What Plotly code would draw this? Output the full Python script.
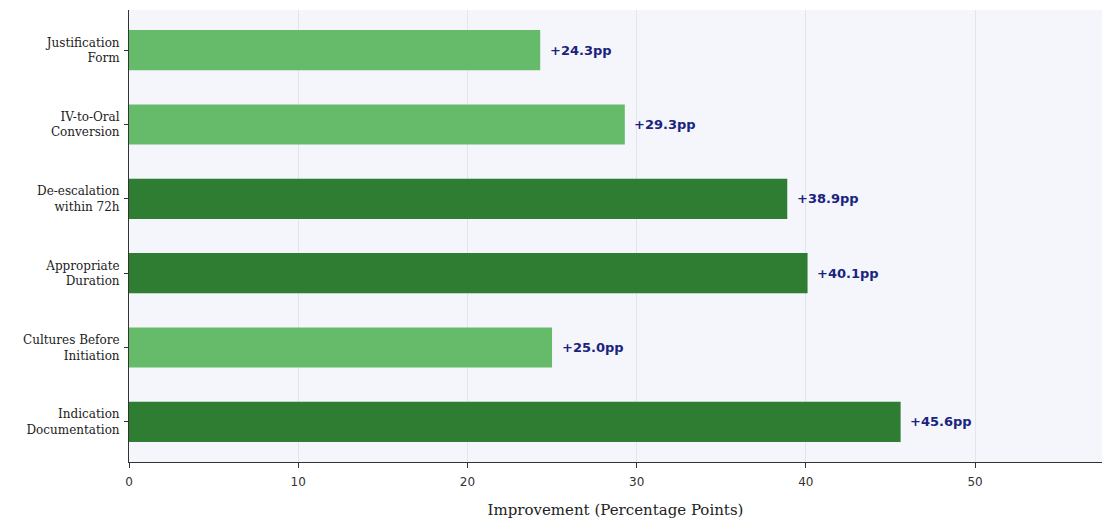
import plotly.graph_objects as go

categories = ["Justification<br>Form", "IV-to-Oral<br>Conversion", "De-escalation<br>within 72h",
              "Appropriate<br>Duration", "Cultures Before<br>Initiation", "Indication<br>Documentation"]
improvement = [24.3, 29.3, 38.9, 40.1, 25.0, 45.6]
DARK = "#2e7d32"
LIGHT = "#66bb6a"
colors = [DARK if v > 35 else LIGHT for v in improvement]

fig = go.Figure()
fig.add_trace(go.Bar(
    y=categories, x=improvement, orientation="h",
    marker=dict(color=colors, line=dict(width=0)),
    width=0.54, hoverinfo="skip"))

for c, v in zip(categories, improvement):
    fig.add_annotation(x=v + 0.45, y=c, text=f"<b>+{v:.1f}pp</b>", showarrow=False,
                       xanchor="left", yanchor="middle",
                       font=dict(family="DejaVu Sans", size=13, color="#1a237e"))

fig.update_layout(
    width=1102, height=520,
    margin=dict(l=129, r=0, t=10, b=58),
    paper_bgcolor="white", plot_bgcolor="#f4f6fc",
    showlegend=False,
)
fig.update_xaxes(
    range=[0, 57.5], dtick=10, showgrid=True, gridcolor="#e2e5ee", gridwidth=1,
    zeroline=False, showline=True, linecolor="#333333", linewidth=1,
    ticks="outside", ticklen=5, tickcolor="#333333", ticklabelstandoff=4,
    tickfont=dict(family="DejaVu Sans", size=12, color="#333333"),
    title=dict(text="Improvement (Percentage Points)", standoff=16,
               font=dict(family="DejaVu Serif", size=15, color="#222222")))
fig.update_yaxes(
    autorange=False, range=[5.54, -0.54], showgrid=False, zeroline=False,
    showline=True, linecolor="#333333", linewidth=1,
    ticks="outside", ticklen=4, tickcolor="#333333", ticklabelstandoff=2,
    tickfont=dict(family="DejaVu Serif", size=12, color="#222222"))

fig.write_html("out.html")
